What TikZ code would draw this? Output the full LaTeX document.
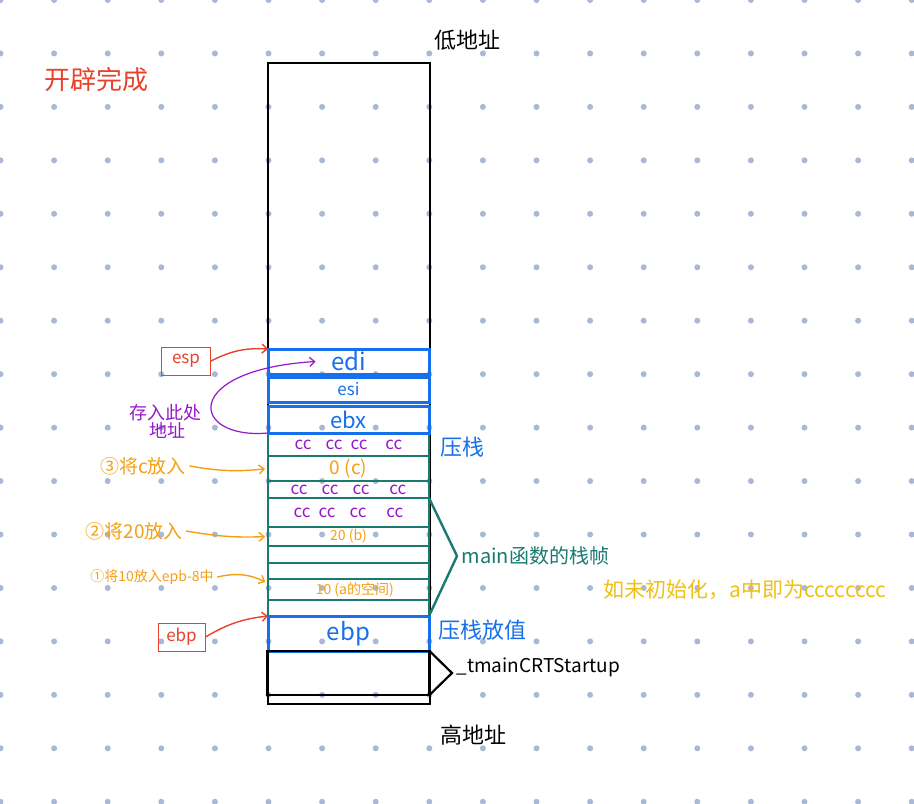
\documentclass[tikz,border=0pt]{standalone}
\usepackage{fontspec}
\setmainfont{Noto Sans CJK SC}
\usetikzlibrary{positioning, arrows.meta}

\definecolor{stackblue}{RGB}{22,112,236}
\definecolor{frameteal}{RGB}{26,122,112}
\definecolor{notered}{RGB}{232,66,44}
\definecolor{noteorange}{RGB}{245,160,20}
\definecolor{notepurple}{RGB}{150,24,200}
\definecolor{noteyellow}{RGB}{240,192,20}
\definecolor{dotgrey}{RGB}{168,184,214}

\begin{document}
\begin{tikzpicture}[
    x=1pt, y=-1pt,
    cell/.style={rectangle, draw=frameteal, line width=2.4pt, minimum width=161pt, inner sep=0pt, outer sep=0pt},
    regbox/.style={cell, draw=stackblue, line width=3pt, text=stackblue},
    tagbox/.style={rectangle, draw=notered, line width=1pt, minimum width=49pt, minimum height=28pt, text=notered, font=\fontsize{17pt}{17pt}\selectfont},
    line/.style={draw, -{Straight Barb[length=5pt,width=9pt]}, line width=1.4pt},
    fillcc/.style={text=notepurple, font=\fontsize{17pt}{17pt}\selectfont},
    note/.style={font=\fontsize{#1pt}{#1pt}\selectfont},
    note/.default=18
]
    \useasboundingbox (0,0) rectangle (914,804);
    \fill[white] (0,0) rectangle (914,804);
    % dot paper
    \foreach \i in {0,...,17}
        \foreach \j in {0,...,15}
            \fill[dotgrey] (0.5+53.6*\i, 53.45*\j) circle (3pt);

    % stack frame outline
    \node (frame) [rectangle, draw, line width=2.2pt, minimum width=162pt, minimum height=641pt, inner sep=0pt] at (349,383.5) {};

    % main's frame
    \node (cc1) [cell, minimum height=23pt, fillcc] at (348.5,444.5) {cc\hspace{14pt}cc\hspace{8pt}cc\hspace{18pt}cc};
    \node (c0) [cell, minimum height=25pt, below=0pt of cc1, text=noteorange, note=19] {0 (c)};
    \node (cc2) [cell, minimum height=17pt, below=0pt of c0, fillcc] {cc\hspace{14pt}cc\hspace{14pt}cc\hspace{20pt}cc};
    \node (cc3) [cell, minimum height=29pt, below=0pt of cc2, fillcc] {cc\hspace{8pt}cc\hspace{14pt}cc\hspace{20pt}cc};
    \node (b20) [cell, minimum height=19pt, below=0pt of cc3, text=noteorange, note=14] {20 (b)};
    \node (e1) [cell, minimum height=17pt, below=0pt of b20] {};
    \node (e2) [cell, minimum height=16pt, below=0pt of e1] {};
    \node (a10) [cell, minimum height=21pt, below=0pt of e2, text=noteorange, note=14] {~~~~10 (a的空间)};
    \node (e3) [cell, minimum height=16pt, below=0pt of a10] {};

    % saved registers
    \node (ebx) [regbox, minimum height=27pt, above=0pt of cc1, note=22] {ebx};
    \node (esi) [regbox, minimum height=25pt, above=4pt of ebx, note=17] {esi};
    \node (edi) [regbox, minimum height=25pt, above=3pt of esi, note=24] {edi};
    \node (ebp) [regbox, minimum height=35pt, below=0pt of e3, note=24] {ebp};
    \node (ret) [rectangle, draw, line width=2.2pt, minimum width=162pt, minimum height=44pt, inner sep=0pt, outer sep=0pt, below=0pt of ebp] {};

    % labels
    \node (low) [note=22] at (467,40) {低地址};
    \node (high) [note=22] at (473,735) {高地址};
    \node (done) [note=26, text=notered] at (97,80) {开辟完成};
    \node (esp) [tagbox] at (186,361) {esp};
    \node (ebptag) [tagbox, minimum width=47pt] at (181.5,637) {ebp};
    \node (save) [note=18, text=notepurple, align=center] at (165,421) {存入此处\\\hspace*{4pt}地址};
    \node (step3) [note=19, text=noteorange] at (143,466) {③将c放入};
    \node (step2) [note=19, text=noteorange] at (134,531) {②将20放入};
    \node (step1) [note=14, text=noteorange] at (152,577) {①将10放入epb-8中};
    \node (push) [note=22, text=stackblue] at (462,447) {压栈};
    \node (pushval) [note=22, text=stackblue] at (482,630) {压栈放值};
    \node (tip) at (457,556) {};
    \node (mainframe) [note=20, text=frameteal, anchor=west] at (458,556) {main函数的栈帧};
    \node (crt) [note=19, anchor=west] at (453,667) {\_tmainCRTStartup};
    \node (uninit) [note=21, text=noteyellow] at (745,590) {如未初始化，a中即为cccccccc};

    % braces
    \draw [frameteal, line width=2.4pt] (cc3.north east) -- (tip.center) -- (e3.south east);
    \draw [line width=2.2pt] (ret.north east) -- (452,673) -- (ret.south east);

    % arrows
    \draw [line, notered] (esp.east) to[bend left=15] (edi.north west);
    \draw [line, notered] (ebptag.east) to[bend left=12] (ebp.north west);
    \draw [line, noteorange, shorten >=3pt] (step3.east) to[bend right=8] (c0.west);
    \draw [line, noteorange, shorten >=3pt] (step2.east) to[bend right=6] (b20.west);
    \draw [line, noteorange, shorten >=3pt] (step1.east) to[bend left=20] ([yshift=6pt]a10.west);
    \draw [line, notepurple, line width=1.2pt] (ebx.south west) .. controls (190,440) and (180,370) .. ([xshift=-33pt]edi.center);
\end{tikzpicture}
\end{document}
